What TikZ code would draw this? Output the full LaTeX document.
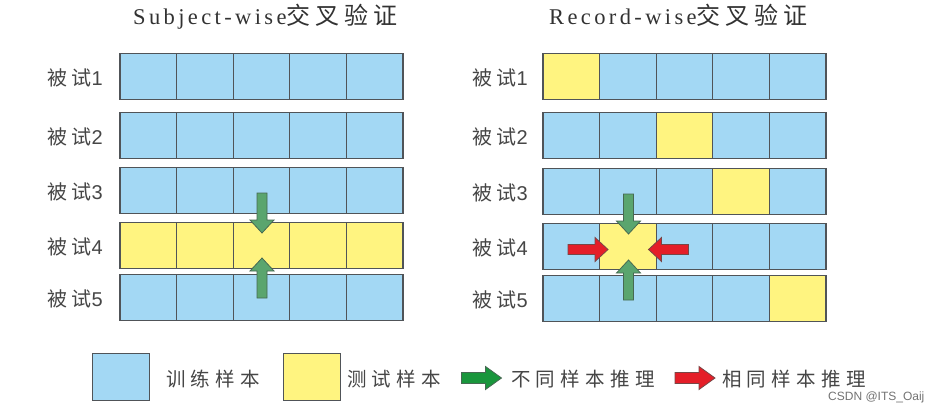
\documentclass[tikz,border=0pt]{standalone}
\usepackage{fontspec}
\setmainfont{Liberation Sans}
\newfontfamily\ttlLat[LetterSpace=15]{Liberation Serif}
\newfontfamily\ttlCJK[LetterSpace=21]{Noto Sans CJK SC}
\newfontfamily\lblCJK[LetterSpace=22]{Noto Sans CJK SC}
\newfontfamily\lgdCJK[LetterSpace=27]{Noto Sans CJK SC}
\newfontfamily\digfont{Liberation Sans}
\definecolor{trainblue}{RGB}{163,216,244}
\definecolor{testyellow}{RGB}{255,244,128}
\definecolor{cellline}{RGB}{80,84,88}
\definecolor{gfill}{RGB}{90,165,110}
\definecolor{gdraw}{RGB}{70,105,82}
\definecolor{lgfill}{RGB}{25,150,60}
\definecolor{rfill}{RGB}{228,30,40}
\definecolor{rdraw}{RGB}{120,70,70}
\definecolor{txtgray}{RGB}{70,70,70}
\definecolor{ttlgray}{RGB}{50,50,50}
\tikzset{
  cell/.style={draw=cellline, line width=1.2pt, inner sep=0pt, minimum width=56.6pt, minimum height=46pt},
  rowlbl/.style={anchor=west, inner sep=0pt, text=txtgray, font=\fontsize{20}{22}\selectfont},
  lgdtxt/.style={anchor=west, inner sep=0pt, text=txtgray, font=\fontsize{19.5}{22}\selectfont},
  ttl/.style={anchor=base west, inner sep=0pt, text=ttlgray, font=\fontsize{22.5}{24}\selectfont},
  garrow/.pic={\path[pic actions] (0,-5) -- (27,-5) -- (27,-12) -- (40,0) -- (27,12) -- (27,5) -- (0,5) -- cycle;},
  larrow/.pic={\path[pic actions] (0,-5.5) -- (24,-5.5) -- (24,-11.5) -- (40,0) -- (24,11.5) -- (24,5.5) -- (0,5.5) -- cycle;},
}
\newcommand{\ttlcjk}[1]{{\ttlCJK\fontsize{24}{26}\selectfont #1}}
\begin{document}
\begin{tikzpicture}[x=1pt,y=-1pt]
\useasboundingbox[fill=white] (0,0) rectangle (944,412);

% titles
\node[ttl] (ttlL) at (133,24.5) {\ttlLat Subject-wise\ttlcjk{交叉验证}};
\node[ttl] (ttlR) at (549,24.5) {\ttlLat Record-wise\ttlcjk{交叉验证}};

% left grid (subject-wise)
\foreach \r/\yc in {1/76.3,2/135.5,3/190.8,4/245.3,5/297.8}{
  \node[rowlbl] (Llbl\r) at (47,\yc+1.5) {\lblCJK 被试\digfont\r};
  \foreach \c in {1,...,5}{
    \ifnum\r=4 \def\fc{testyellow}\else\def\fc{trainblue}\fi
    \node[cell, fill=\fc] (L\r\c) at ({120+56.6*(\c-0.5)},\yc) {};
  }
}

% right grid (record-wise)
\foreach \r/\yc/\yy in {1/76.7/1,2/135.7/3,3/191.3/4,4/246.7/2,5/298.3/5}{
  \node[rowlbl] (Rlbl\r) at (472,\yc+1.5) {\lblCJK 被试\digfont\r};
  \foreach \c in {1,...,5}{
    \ifnum\c=\yy \def\fc{testyellow}\else\def\fc{trainblue}\fi
    \node[cell, fill=\fc] (R\r\c) at ({543+56.6*(\c-0.5)},\yc) {};
  }
}

% arrows, left grid
\pic[fill=gfill, draw=gdraw, line width=0.8pt, rotate=-90] at (262,193) {garrow};
\pic[fill=gfill, draw=gdraw, line width=0.8pt, rotate=90] at (262,298) {garrow};

% arrows, right grid
\pic[fill=gfill, draw=gdraw, line width=0.8pt, rotate=-90] at (628.5,194) {garrow};
\pic[fill=gfill, draw=gdraw, line width=0.8pt, rotate=90] at (628.5,300) {garrow};
\pic[fill=rfill, draw=rdraw, line width=0.8pt] at (568,249.5) {garrow};
\pic[fill=rfill, draw=rdraw, line width=0.8pt, rotate=180] at (688.5,249.5) {garrow};

% legend
\node[cell, fill=trainblue, minimum width=57pt, minimum height=47pt] (legTrain) at (121.3,376.7) {};
\node[lgdtxt] (legTrainTxt) at (166,379) {\lgdCJK 训练样本};
\node[cell, fill=testyellow, minimum width=57pt, minimum height=47pt] (legTest) at (312.3,376.7) {};
\node[lgdtxt] (legTestTxt) at (347,379) {\lgdCJK 测试样本};
\pic[fill=lgfill, draw=gdraw, line width=0.8pt] at (461.5,378) {larrow};
\node[lgdtxt] (legDiffTxt) at (511,379) {\lgdCJK 不同样本推理};
\pic[fill=rfill, draw=rdraw, line width=0.8pt] at (675,378) {larrow};
\node[lgdtxt] (legSameTxt) at (722,379) {\lgdCJK 相同样本推理};

% watermark
\node[anchor=west, inner sep=0pt, text=black!55, font=\fontsize{12}{14}\selectfont] (wm) at (828,397) {CSDN @ITS\_Oaij};
\end{tikzpicture}
\end{document}
